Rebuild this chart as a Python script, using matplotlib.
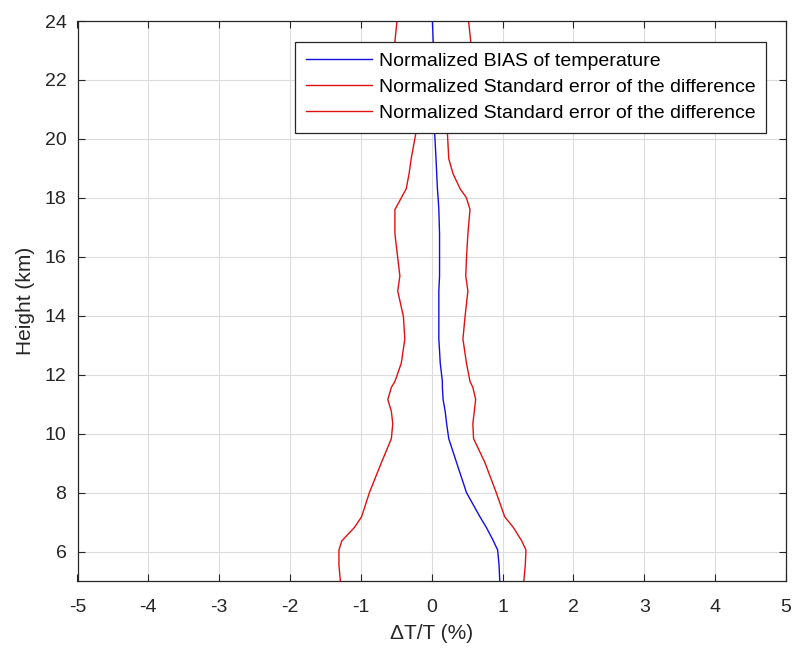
import matplotlib.pyplot as plt

plt.rcParams['font.family'] = ['Liberation Sans', 'DejaVu Sans']
plt.rcParams['axes.unicode_minus'] = False

# profile heights (km) and normalized values (%)
height = [5.0, 5.54, 6.05, 6.36, 6.82, 7.18, 8.0, 9.02, 9.83, 10.34, 10.75, 11.16, 11.57, 11.77,
          12.39, 13.21, 13.97, 14.84, 15.35, 15.96, 16.78, 17.6, 18.0, 18.31, 18.82, 19.33,
          20.25, 21.37, 22.39, 23.31, 24.0]
bias = [0.96, 0.95, 0.93, 0.87, 0.77, 0.68, 0.49, 0.35, 0.24, 0.21, 0.19, 0.16, 0.15, 0.15,
        0.12, 0.10, 0.10, 0.10, 0.11, 0.11, 0.11, 0.10, 0.09, 0.08, 0.07, 0.06,
        0.04, 0.03, 0.02, 0.02, 0.01]
std_low = [-1.29, -1.31, -1.31, -1.27, -1.09, -0.99, -0.88, -0.71, -0.57, -0.55, -0.57, -0.62, -0.57, -0.52,
           -0.43, -0.38, -0.40, -0.48, -0.45, -0.48, -0.52, -0.52, -0.43, -0.36, -0.32, -0.29,
           -0.22, -0.25, -0.36, -0.52, -0.49]
std_high = [1.30, 1.32, 1.33, 1.27, 1.15, 1.03, 0.91, 0.75, 0.59, 0.58, 0.60, 0.62, 0.58, 0.54,
            0.49, 0.44, 0.47, 0.51, 0.48, 0.49, 0.51, 0.54, 0.49, 0.40, 0.30, 0.24,
            0.22, 0.25, 0.38, 0.55, 0.52]

labels = ['Normalized BIAS of temperature',
          'Normalized Standard error of the difference',
          'Normalized Standard error of the difference']

fig = plt.figure(figsize=(7.96, 6.56), dpi=100)
ax = fig.add_axes([77.5 / 796, 75 / 656, 708.5 / 796, 560 / 656])

ax.plot(bias, height, color='#1010e0', lw=1.0, label=labels[0])
ax.plot(std_high, height, color='#e01010', lw=1.0, label=labels[1])
ax.plot(std_low, height, color='#e01010', lw=1.0, label=labels[2])

ax.set_xlim(-5, 5)
ax.set_ylim(5, 24)
ax.set_xticks(range(-5, 6))
ax.set_yticks(range(6, 25, 2))
ax.grid(True, color='#dcdcdc', lw=0.8)
ax.set_axisbelow(True)
ax.tick_params(direction='in', top=True, right=True, labelsize=14, colors='#262626', length=5)
ax.tick_params(axis='x', pad=13)
ax.tick_params(axis='y', pad=8)
for s in ax.spines.values():
    s.set_color('#262626')
    s.set_linewidth(0.9)

ax.set_xlabel('ΔT/T (%)', fontsize=15, color='#262626')
ax.set_ylabel('Height (km)', fontsize=15, color='#262626')
ax.xaxis.set_label_coords(0.5, -0.077)
ax.yaxis.set_label_coords(-0.06, 0.5)

leg = ax.legend(loc='upper right', bbox_to_anchor=(0.972, 0.9625), borderaxespad=0,
                fancybox=False, framealpha=1, edgecolor='#262626', fontsize=14,
                handlelength=3.4, labelspacing=0.42, borderpad=0.55, handletextpad=0.35)
leg.get_frame().set_linewidth(0.9)

plt.savefig('out.png')
